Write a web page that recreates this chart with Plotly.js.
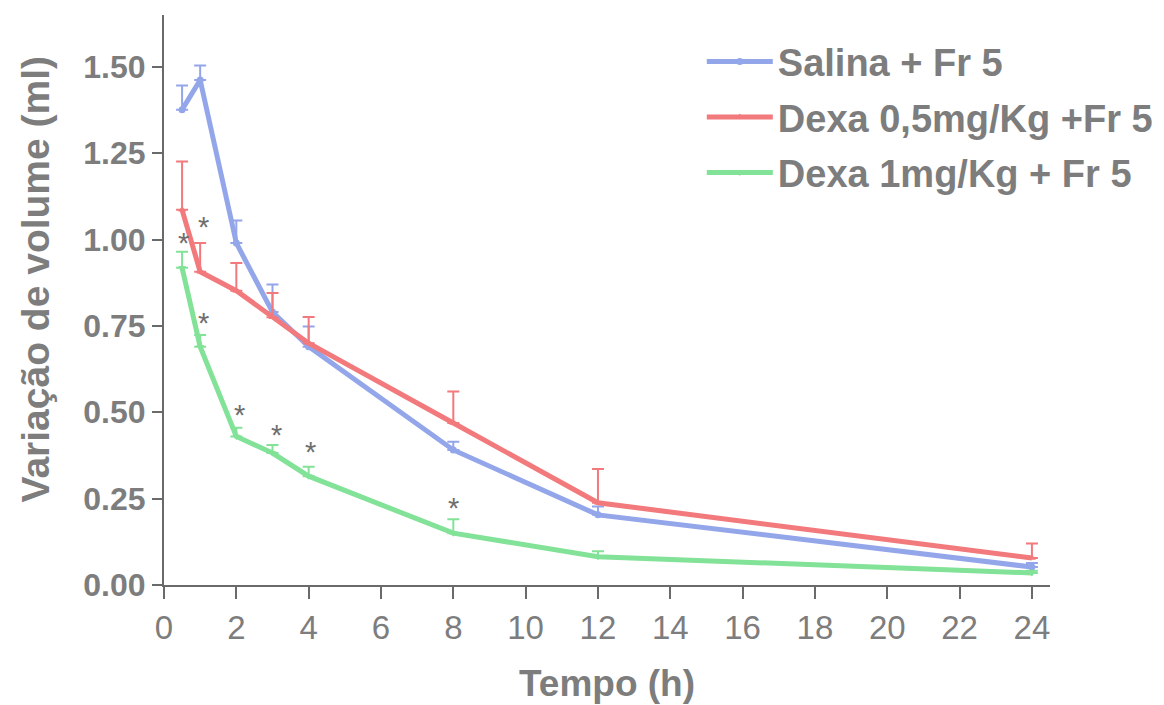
<!DOCTYPE html>
<html>
<head>
<meta charset="utf-8">
<script src="https://cdn.plot.ly/plotly-3.0.1.min.js"></script>
<style>
  html, body { margin: 0; padding: 0; background: #ffffff; }
  #chart { width: 1164px; height: 705px; }
</style>
</head>
<body>
<div id="chart"></div>
<script>
// Time points (h)
const tempo = [0.5, 1, 2, 3, 4, 8, 12, 24];

// Mean volume change (ml) per group
const salina      = [1.376, 1.462, 0.990, 0.790, 0.690, 0.391, 0.203, 0.052];
const dexa05      = [1.086, 0.907, 0.852, 0.775, 0.700, 0.469, 0.238, 0.078];
const dexa1       = [0.918, 0.690, 0.430, 0.382, 0.315, 0.150, 0.082, 0.035];

// Upper error (SEM, ml)
const salinaErr   = [0.070, 0.042, 0.065, 0.080, 0.058, 0.024, 0.024, 0.012];
const dexa05Err   = [0.140, 0.083, 0.080, 0.070, 0.076, 0.091, 0.098, 0.042];
const dexa1Err    = [0.047, 0.034, 0.025, 0.023, 0.027, 0.040, 0.016, 0.006];

// Significance markers (*)
const starX = [0.53, 1.1, 1.1, 2.1, 3.1, 4.05, 8.0];
const starY = [1.005, 1.051, 0.773, 0.507, 0.449, 0.400, 0.237];

const names = ['Salina + Fr 5', 'Dexa 0,5mg/Kg +Fr 5', 'Dexa 1mg/Kg + Fr 5'];
const colors = ['#93a6ea', '#f2797c', '#82e297'];
const symbols = ['circle', 'triangle-up', 'triangle-down'];
const series = [salina, dexa05, dexa1];
const errs = [salinaErr, dexa05Err, dexa1Err];

const textGray = '#7d7d7d';
const sansFont = '"Liberation Sans", Arial, sans-serif';

const traces = series.map((ys, i) => ({
  type: 'scatter',
  mode: 'lines+markers',
  name: names[i],
  legendgroup: 'g' + i,
  x: tempo,
  y: ys,
  line: { color: colors[i], width: 5 },
  marker: { color: colors[i], symbol: symbols[i], size: 7 },
  error_y: {
    type: 'data',
    symmetric: false,
    array: errs[i],
    arrayminus: errs[i].map(() => 0),
    color: colors[i],
    thickness: 2,
    width: 6
  }
}));

const annotations = starX.map((x, i) => ({
  x: x, y: starY[i], xref: 'x', yref: 'y',
  text: '*', showarrow: false,
  font: { family: sansFont, size: 29, color: '#6f6f6f' },
  yshift: -5
}));

// Y-axis title, placed slightly above the plot's vertical centre
annotations.push({
  xref: 'paper', yref: 'paper',
  x: -0.145, y: 0.537,
  xanchor: 'center', yanchor: 'middle',
  text: 'Variação de volume (ml)',
  textangle: -90,
  showarrow: false,
  font: { family: sansFont, size: 39, color: textGray, weight: 'bold' }
});

const layout = {
  width: 1164,
  height: 705,
  margin: { l: 164, r: 114, t: 15, b: 120, autoexpand: false },
  paper_bgcolor: '#ffffff',
  plot_bgcolor: '#ffffff',
  showlegend: true,
  legend: {
    x: 0.607, y: 0.973, xanchor: 'left', yanchor: 'top',
    font: { family: sansFont, size: 38, color: textGray, weight: 'bold' },
    bgcolor: 'rgba(0,0,0,0)',
    traceorder: 'grouped',
    tracegroupgap: 3,
    itemwidth: 66
  },
  xaxis: {
    range: [0, 24.5],
    tickmode: 'array',
    tickvals: [0, 2, 4, 6, 8, 10, 12, 14, 16, 18, 20, 22, 24],
    ticks: 'outside',
    ticklen: 12,
    tickwidth: 2,
    tickcolor: '#6a6a6a',
    showline: true,
    linecolor: '#6a6a6a',
    linewidth: 2,
    showgrid: false,
    zeroline: false,
    tickfont: { family: sansFont, size: 33, color: textGray },
    title: {
      text: 'Tempo (h)',
      font: { family: sansFont, size: 37, color: textGray, weight: 'bold' },
      standoff: 26
    }
  },
  yaxis: {
    range: [0, 1.65],
    tickmode: 'array',
    tickvals: [0, 0.25, 0.5, 0.75, 1.0, 1.25, 1.5],
    ticktext: ['0.00', '0.25', '0.50', '0.75', '1.00', '1.25', '1.50'],
    ticks: 'outside',
    ticklen: 10,
    tickwidth: 2,
    tickcolor: '#6a6a6a',
    showline: true,
    linecolor: '#6a6a6a',
    linewidth: 2,
    showgrid: false,
    zeroline: false,
    tickfont: { family: sansFont, size: 32, color: textGray, weight: 'bold' }
  },
  annotations: annotations
};

Plotly.newPlot('chart', traces, layout, { displayModeBar: false, staticPlot: true });
</script>
</body>
</html>
